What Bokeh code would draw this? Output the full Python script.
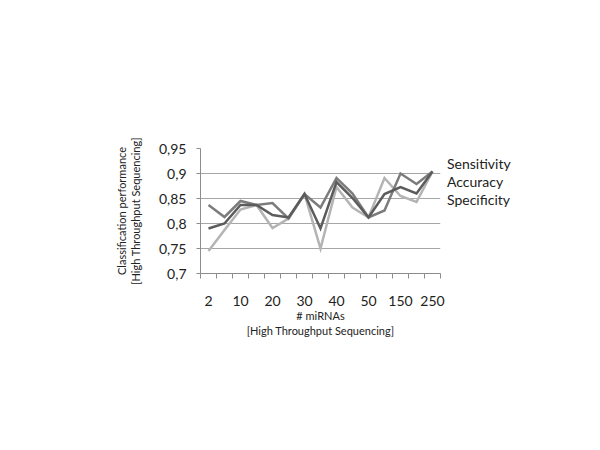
from bokeh.plotting import figure
from bokeh.models import Range1d, FixedTicker, Legend, LegendItem
from bokeh.embed import file_html
from bokeh.resources import INLINE

categories = ["2", "5", "10", "15", "20", "25", "30", "35", "40", "45", "50", "100", "150", "200", "250"]
shown_labels = ["2", "10", "20", "30", "40", "50", "150", "250"]
sensitivity = [0.837, 0.813, 0.845, 0.837, 0.841, 0.810, 0.859, 0.832, 0.891, 0.860, 0.812, 0.826, 0.900, 0.879, 0.904]
accuracy = [0.790, 0.800, 0.837, 0.837, 0.817, 0.812, 0.859, 0.790, 0.883, 0.851, 0.812, 0.859, 0.873, 0.860, 0.904]
specificity = [0.745, 0.787, 0.828, 0.837, 0.791, 0.810, 0.859, 0.750, 0.873, 0.832, 0.812, 0.891, 0.855, 0.843, 0.904]
y_ticks = [0.7, 0.75, 0.8, 0.85, 0.9, 0.95]
y_tick_labels = ["0,7", "0,75", "0,8", "0,85", "0,9", "0,95"]
series_names = ["Sensitivity", "Accuracy", "Specificity"]
series_colors = ["#7c7c7c", "#5c5c5c", "#b4b4b4"]

FONT = "Lato"
n = len(categories)
xpos = [i + 0.5 for i in range(n)]

p = figure(frame_width=240, frame_height=125, output_backend="svg", toolbar_location=None,
           x_range=Range1d(0, n), y_range=Range1d(0.7, 0.95),
           min_border_left=200, min_border_right=144, min_border_top=148, min_border_bottom=161)
p.outline_line_color = None
p.background_fill_color = "white"

# x axis
xt = FixedTicker(ticks=[xpos[categories.index(c)] for c in shown_labels],
                 minor_ticks=[float(i) for i in range(n + 1)])
p.xaxis.ticker = xt
p.xaxis.major_label_overrides = {xpos[categories.index(c)]: c for c in shown_labels}
p.xaxis.major_tick_out = 0
p.xaxis.major_tick_in = 0
p.xaxis.minor_tick_out = 5
p.xaxis.minor_tick_in = 0
p.xaxis.minor_tick_line_color = "#8c8c8c"
p.xaxis.axis_line_color = "#8c8c8c"
p.xaxis.major_label_standoff = 17
p.xaxis.major_label_text_font = FONT
p.xaxis.major_label_text_font_size = "14px"
p.xaxis.major_label_text_color = "#222222"
p.xaxis.axis_label = "# miRNAs\n[High Throughput Sequencing]"
p.xaxis.axis_label_text_font = FONT
p.xaxis.axis_label_text_font_size = "11px"
p.xaxis.axis_label_text_font_style = "normal"
p.xaxis.axis_label_text_color = "#222222"
p.xaxis.axis_label_standoff = 0
p.xaxis.axis_label_text_line_height = 1.2
p.xgrid.grid_line_color = None

# y axis
p.yaxis.ticker = FixedTicker(ticks=y_ticks)
p.yaxis.major_label_overrides = dict(zip(y_ticks, y_tick_labels))
p.yaxis.major_tick_out = 4
p.yaxis.major_tick_in = 0
p.yaxis.minor_tick_line_color = None
p.yaxis.major_tick_line_color = "#8c8c8c"
p.yaxis.axis_line_color = "#8c8c8c"
p.yaxis.major_label_standoff = 10
p.yaxis.major_label_text_font = FONT
p.yaxis.major_label_text_font_size = "14px"
p.yaxis.major_label_text_color = "#222222"
p.yaxis.axis_label = "Classification performance\n[High Throughput Sequencing]"
p.yaxis.axis_label_text_font = FONT
p.yaxis.axis_label_text_font_size = "11px"
p.yaxis.axis_label_text_font_style = "normal"
p.yaxis.axis_label_text_color = "#222222"
p.yaxis.axis_label_standoff = 14
p.yaxis.axis_label_text_line_height = 1.1
p.ygrid.grid_line_color = "#a6a6a6"
p.ygrid.grid_line_width = 1

renderers = {}
for name, vals, col in [("Specificity", specificity, series_colors[2]),
                        ("Sensitivity", sensitivity, series_colors[0]),
                        ("Accuracy", accuracy, series_colors[1])]:
    renderers[name] = p.line(xpos, vals, line_color=col, line_width=2.5, line_join="miter")

legend = Legend(items=[LegendItem(label=nm, renderers=[renderers[nm]]) for nm in series_names],
                location="top_left", orientation="vertical",
                glyph_width=0, glyph_height=17, label_height=17, label_standoff=0,
                spacing=1, padding=0, margin=7, border_line_color=None,
                background_fill_alpha=0,
                label_text_font=FONT, label_text_font_size="14px", label_text_color="#222222")
p.add_layout(legend, "right")

open("out.html", "w").write(file_html(p, INLINE))
